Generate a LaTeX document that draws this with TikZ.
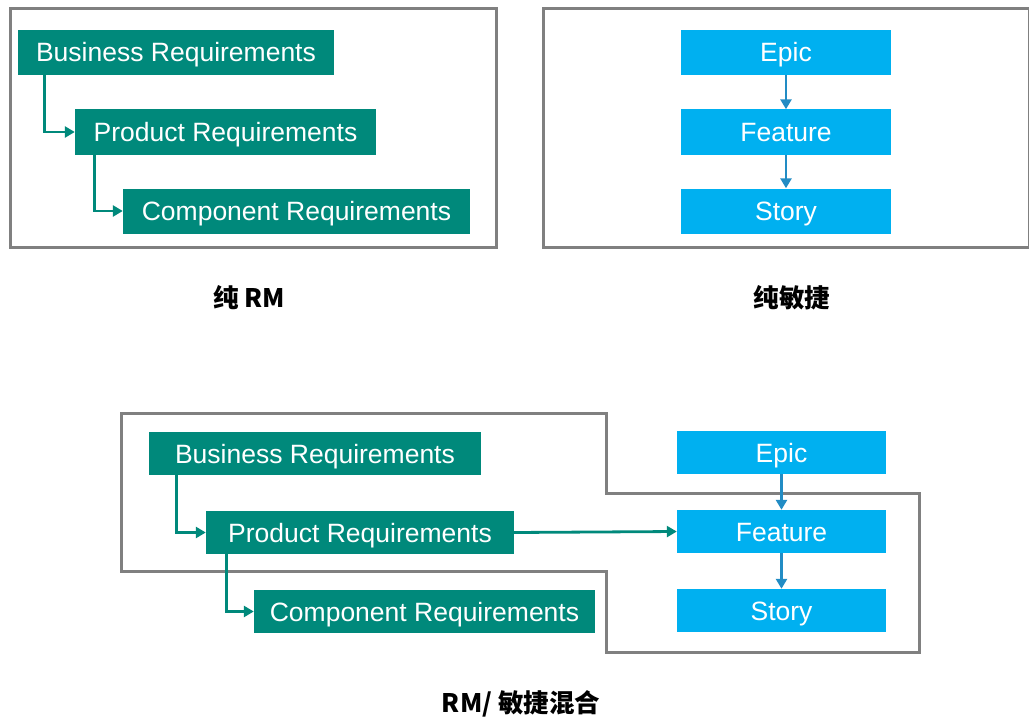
\documentclass[tikz,border=0pt]{standalone}
\usepackage{fontspec}
\setmainfont{Liberation Sans}
\newfontfamily\cjk{Noto Sans CJK SC}
\usetikzlibrary{arrows.meta}
\definecolor{teal1}{RGB}{0,137,123}
\definecolor{blue1}{RGB}{0,176,240}
\definecolor{blue2}{RGB}{34,140,196}
\definecolor{frame1}{RGB}{128,128,128}
\tikzset{
  gbox/.style={fill=teal1, draw=none, text=white, font=\fontsize{26.5}{30}\selectfont, minimum height=45, inner sep=0pt, text height=19pt, text depth=0pt},
  bbox/.style={fill=blue1, draw=none, text=white, font=\fontsize{26.5}{30}\selectfont, minimum height=45, minimum width=210, inner sep=0pt, text height=19pt, text depth=0pt},
  garrow/.style={draw=teal1, line width=2.8pt, -{Triangle[length=10pt,width=11pt]}},
  barrow/.style={draw=blue2, line width=2.8pt, -{Triangle[length=10pt,width=11pt]}},
  frameline/.style={draw=frame1, line width=3pt},
  caption/.style={font=\cjk\bfseries\fontsize{25.5}{30}\selectfont, text=black}
}
\begin{document}
\begin{tikzpicture}[x=1pt,y=-1pt]
\useasboundingbox (0,0) rectangle (1029,717);
% top-left frame
\draw[frameline] (10,9) rectangle (496,247);
\node[gbox, minimum width=316] (br1) at (176,52.5) {Business Requirements};
\node[gbox, minimum width=301] (pr1) at (225.5,132) {Product Requirements};
\node[gbox, minimum width=347] (cr1) at (296.5,211) {Component Requirements};
\draw[garrow] ([xshift=27pt]br1.south west) |- (pr1.west);
\draw[garrow] ([xshift=20pt]pr1.south west) |- (cr1.west);
\node[caption] (cap1) at (249,298) {纯 RM};
% top-right frame
\draw[frameline] (543,9) rectangle (1029,247);
\node[bbox] (ep1) at (786,52.5) {Epic};
\node[bbox] (fe1) at (786,132) {Feature};
\node[bbox] (st1) at (786,211) {Story};
\draw[barrow] (ep1.south) -- (fe1.north);
\draw[barrow] (fe1.south) -- (st1.north);
\node[caption] (cap2) at (792,298) {纯敏捷};
% bottom
\draw[frameline] (121,413) -- (606,413) -- (606,493) -- (919,493) -- (919,652) -- (606,652) -- (606,571) -- (121,571) -- cycle;
\node[gbox, minimum width=332, minimum height=43] (br2) at (315,453.5) {Business Requirements};
\node[gbox, minimum width=308, minimum height=43] (pr2) at (360,532.5) {Product Requirements};
\node[gbox, minimum width=341, minimum height=43] (cr2) at (424.5,611.5) {Component Requirements};
\node[bbox, minimum width=209, minimum height=43] (ep2) at (781.5,452.5) {Epic};
\node[bbox, minimum width=209, minimum height=43] (fe2) at (781.5,531.5) {Feature};
\node[bbox, minimum width=209, minimum height=43] (st2) at (781.5,610.5) {Story};
\draw[garrow] ([xshift=28pt]br2.south west) |- (pr2.west);
\draw[garrow] ([xshift=21pt]pr2.south west) |- (cr2.west);
\draw[garrow] (pr2.east) -- (fe2.west);
\draw[barrow] (ep2.south) -- (fe2.north);
\draw[barrow] (fe2.south) -- (st2.north);
\node[caption] (cap3) at (521,704) {RM/ 敏捷混合};
\end{tikzpicture}
\end{document}
